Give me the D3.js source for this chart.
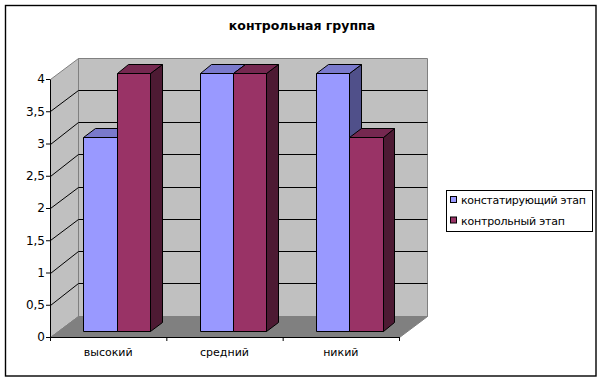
<!DOCTYPE html>
<html>
<head>
<meta charset="utf-8">
<script src="https://cdn.jsdelivr.net/npm/d3@7"></script>
<style>
  html, body { margin: 0; padding: 0; background: #fff; }
  svg { display: block; }
  text { font-family: "DejaVu Sans", sans-serif; fill: #000; }
</style>
</head>
<body>
<div id="chart"></div>
<script>
const categories = ["высокий", "средний", "никий"]
const seriesNames = ["констатирующий этап", "контрольный этап"]
const stage1 = [3, 4, 4]
const stage2 = [4, 4, 3]
const yTicks = [0, 0.5, 1, 1.5, 2, 2.5, 3, 3.5, 4]

const w = 603, h = 382
const depthX = 28, depthY = 21.5
const barZ0 = 0.28, barZ1 = 0.7

const faces = [
  { front: "#9999ff", top: "#7a7acc", side: "#50508a" },
  { front: "#993366", top: "#752850", side: "#4d1a33" }
]
const legendWidths = [125, 104]

let svg = d3.select("#chart").append("svg")
            .attr("width", w)
            .attr("height", h)

svg.append("rect").attr("x", 5.5).attr("y", 5.5)
   .attr("width", 590.5).attr("height", 370.5)
   .attr("fill", "#fff").attr("stroke", "#000").attr("stroke-width", 1.4)

let xScale = d3.scaleBand(categories, [50, 399]).paddingInner(0).paddingOuter(0)
let yScale = d3.scaleLinear([0, 4], [337, 79])
let xTickScale = d3.scaleLinear([0, categories.length], [50, 399])

// front plane point pushed back along the depth axis, snapped so lines stay sharp
function pt(x, y, z) {
  return [Math.round(x + depthX * z) + 0.5, Math.round(y - depthY * z) + 0.5]
}
function poly(points, fill, stroke, sw) {
  return svg.append("polygon")
            .attr("points", points.map(p => p.join(",")).join(" "))
            .attr("fill", fill)
            .attr("stroke", stroke)
            .attr("stroke-width", sw)
}

const x0 = 50, x1 = 399, y0 = yScale(0), yT = yScale(4)

// walls and floor
poly([pt(x0, yT, 1), pt(x1, yT, 1), pt(x1, y0, 1), pt(x0, y0, 1)], "#c0c0c0", "#808080", 1)
poly([pt(x0, yT, 0), pt(x0, yT, 1), pt(x0, y0, 1), pt(x0, y0, 0)], "#c0c0c0", "#808080", 1)
poly([pt(x0, y0, 0), pt(x0, y0, 1), pt(x1, y0, 1), pt(x1, y0, 0)], "#808080", "#808080", 1)

// gridlines run along the side wall and the back wall
for (let t of yTicks.filter(d => d > 0 && d < 4)) {
  let a = pt(x0, yScale(t), 0), b = pt(x0, yScale(t), 1), c = pt(x1, yScale(t), 1)
  svg.append("polyline")
     .attr("points", [a, b, c].map(p => p.join(",")).join(" "))
     .attr("fill", "none").attr("stroke", "#000").attr("stroke-width", 1)
}

// bars
let barW = xScale.bandwidth() * 0.2865
let barInset = xScale.bandwidth() * 0.219

function drawBar(cat, value, s) {
  let left = xScale(cat) + barInset + s * barW
  let right = left + barW
  let top = yScale(value), bot = yScale(0)
  let c = faces[s]
  poly([pt(right, bot, barZ0), pt(right, bot, barZ1), pt(right, top, barZ1), pt(right, top, barZ0)], c.side, "#000", 1)
  poly([pt(left, top, barZ0), pt(left, top, barZ1), pt(right, top, barZ1), pt(right, top, barZ0)], c.top, "#000", 1)
  poly([pt(left, top, barZ0), pt(right, top, barZ0), pt(right, bot, barZ0), pt(left, bot, barZ0)], c.front, "#000", 1)
}

categories.forEach((cat, i) => {
  drawBar(cat, stage1[i], 0)
  drawBar(cat, stage2[i], 1)
})

// axes
let yAxisFunction = d3.axisLeft(yScale)
                      .tickValues(yTicks)
                      .tickSize(4)
                      .tickSizeOuter(0)
                      .tickFormat(d => String(d).replace(".", ","))
let yAxis = svg.append("g").attr("transform", "translate(50, 0)").call(yAxisFunction)
yAxis.selectAll("text").style("font-size", "12px").attr("x", -5)

let xAxisFunction = d3.axisBottom(xTickScale)
                      .tickValues(d3.range(categories.length + 1))
                      .tickSize(4)
                      .tickSizeOuter(0)
                      .tickFormat("")
svg.append("g").attr("transform", `translate(0, ${y0})`).call(xAxisFunction)

svg.selectAll(".domain").attr("stroke", "#000")
svg.selectAll(".tick line").attr("stroke", "#000")

svg.selectAll(".cat-label")
   .data(categories)
   .enter()
   .append("text")
   .attr("class", "cat-label")
   .attr("x", d => xScale(d) + xScale.bandwidth() / 2)
   .attr("y", 356)
   .attr("text-anchor", "middle")
   .style("font-size", "11px")
   .text(d => d)

svg.append("text")
   .attr("x", 302).attr("y", 30)
   .attr("text-anchor", "middle")
   .style("font-size", "12.5px")
   .style("font-weight", "bold")
   .text("контрольная группа")

// legend
svg.append("rect").attr("x", 446.5).attr("y", 190.5)
   .attr("width", 146).attr("height", 41)
   .attr("fill", "#fff").attr("stroke", "#000")

seriesNames.forEach((name, i) => {
  let ly = 200 + i * 20.5
  svg.append("rect").attr("x", 450.5).attr("y", ly - 3.5)
     .attr("width", 6).attr("height", 6)
     .attr("fill", faces[i].front).attr("stroke", "#000")
  svg.append("text").attr("x", 461).attr("y", ly + 4)
     .attr("textLength", legendWidths[i])
     .style("font-size", "11px")
     .text(name)
})
</script>
</body>
</html>
